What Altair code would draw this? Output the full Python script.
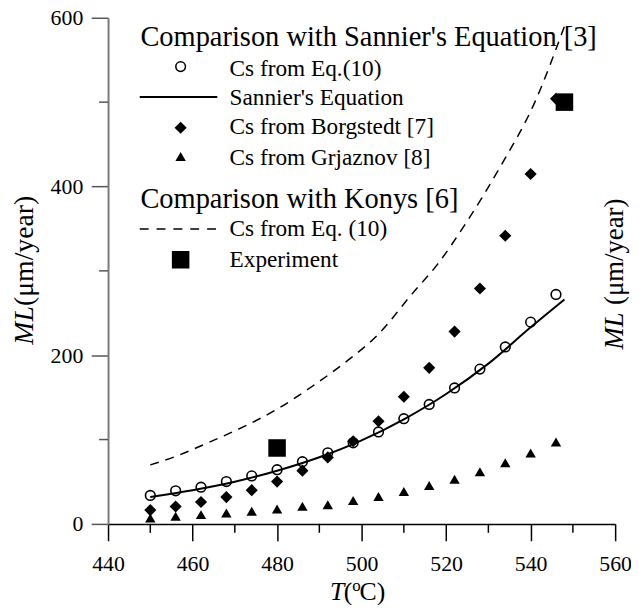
import altair as alt
import pandas as pd

# ---------------- data ----------------
T_pts = [450, 456, 462, 468, 474, 480, 486, 492, 498, 504, 510, 516, 522, 528, 534, 540, 546]
eq10 = [33.7, 39.2, 43.5, 50.2, 56.9, 64.3, 73.7, 84.3, 96.1, 109, 124.7, 141.6, 161.2, 183.5, 209.8, 239.2, 272]
borgstedt = [16.4, 20.7, 25.9, 31.8, 40, 50.2, 63.1, 78.8, 98, 121.7, 150.7, 185, 228, 279, 341.6, 414.8, 504]
grjaznov = [7, 9, 11, 13, 15, 17.6, 20.8, 22.7, 27.8, 32.5, 38.4, 45.5, 52.8, 61.8, 72.4, 84.1, 97]

sannier_T = [450, 460, 470, 480, 490, 500, 510, 520, 530, 540, 548]
sannier_ML = [32, 40, 50, 63, 79, 99, 124, 154, 190, 233, 266]

konys_T = [450, 456, 464, 472, 480, 488, 496, 504, 512, 518, 525, 533, 541, 548]
konys_ML = [70, 80, 97, 115, 136, 162, 191, 225, 273, 308, 359, 425, 500, 590]

exp_T = [480, 548]
exp_ML = [90, 500]

x_major = [440, 460, 480, 500, 520, 540, 560]
x_minor = [450, 470, 490, 510, 530, 550]
y_major = [0, 200, 400, 600]
y_minor = [100, 300, 500]

FONT = "Liberation Serif"
W, H = 512, 511

df_pts = pd.DataFrame({"T": T_pts, "eq10": eq10, "borg": borgstedt, "grj": grjaznov})
df_san = pd.DataFrame({"T": sannier_T, "ML": sannier_ML})
df_kon = pd.DataFrame({"T": konys_T, "ML": konys_ML})
df_exp = pd.DataFrame({"T": exp_T, "ML": exp_ML})
df_xmin = pd.DataFrame({"T": x_minor})
df_ymin = pd.DataFrame({"ML": y_minor})
one = pd.DataFrame({"k": [0]})

xscale = alt.Scale(domain=[440, 560], nice=False, zero=False)
yscale = alt.Scale(domain=[0, 600], nice=False, zero=False)
xaxis = alt.Axis(values=x_major, title=None, grid=False, tickSize=17, tickWidth=1.5,
                 tickColor="black", domainColor="black", domainWidth=1.5,
                 labelFont=FONT, labelFontSize=22, labelColor="black", labelPadding=13,
                 labelFlush=False, labelOverlap=False)
yaxis = alt.Axis(values=y_major, title=None, grid=False, tickSize=17, tickWidth=1.5,
                 tickColor="#555555", domainColor="#7a7a7a", domainWidth=2,
                 labelFont=FONT, labelFontSize=22, labelColor="black", labelPadding=8.5,
                 labelFlush=False, labelOverlap=False)


def X(field="T"):
    return alt.X(f"{field}:Q", scale=xscale, axis=xaxis)


def Y(field):
    return alt.Y(f"{field}:Q", scale=yscale, axis=yaxis)


layers = []

# minor ticks
layers.append(alt.Chart(df_xmin).mark_rule(color="black", strokeWidth=1.5).encode(
    x=X(), y=alt.value(H), y2=alt.value(H + 9)))
layers.append(alt.Chart(df_ymin).mark_rule(color="#555555", strokeWidth=1.5).encode(
    y=Y("ML"), x=alt.value(0), x2=alt.value(-9)))

# curves
layers.append(alt.Chart(df_kon).mark_line(color="black", strokeWidth=1.5, strokeDash=[9, 7],
                                          interpolate="monotone").encode(x=X(), y=Y("ML")))
layers.append(alt.Chart(df_san).mark_line(color="black", strokeWidth=2,
                                          interpolate="monotone").encode(x=X(), y=Y("ML")))

# points
layers.append(alt.Chart(df_pts).mark_point(shape="circle", filled=False, size=95, strokeWidth=1.6,
                                           color="black", opacity=1).encode(x=X(), y=Y("eq10")))
layers.append(alt.Chart(df_pts).mark_point(shape="diamond", filled=True, size=150,
                                           color="black", opacity=1).encode(x=X(), y=Y("borg")))
layers.append(alt.Chart(df_pts).mark_point(shape="triangle-up", filled=True, size=110,
                                           color="black", opacity=1).encode(x=X(), y=Y("grj")))
layers.append(alt.Chart(df_exp).mark_point(shape="square", filled=True, size=313,
                                           color="black", opacity=1).encode(x=X(), y=Y("ML")))


# ---------------- text helpers ----------------
def txt(s, x, y, size, italic=False, angle=0):
    kw = dict(text=s, font=FONT, fontSize=size, align="left", baseline="alphabetic", color="black")
    if italic:
        kw["fontStyle"] = "italic"
    if angle:
        kw["angle"] = angle
    return alt.Chart(one).mark_text(**kw).encode(x=alt.value(x), y=alt.value(y))


def mk(shape, x, y, size, filled):
    return alt.Chart(one).mark_point(shape=shape, filled=filled, size=size, color="black",
                                     strokeWidth=1.6, opacity=1).encode(x=alt.value(x), y=alt.value(y))


# legend block
layers += [
    txt("Comparison with Sannier's Equation [3]", 32.7, 28, 28.7),
    mk("circle", 73.3, 49.3, 95, False),
    txt("Cs from Eq.(10)", 122.7, 58.3, 23.5),
    alt.Chart(one).mark_rule(color="black", strokeWidth=2).encode(
        x=alt.value(32), x2=alt.value(110.3), y=alt.value(80)),
    txt("Sannier's Equation", 122.7, 87.7, 23.5),
    mk("diamond", 73.3, 111, 150, True),
    txt("Cs from Borgstedt [7]", 122.7, 117.7, 23.5),
    mk("triangle-up", 73.3, 140, 110, True),
    txt("Cs from Grjaznov [8]", 122.7, 148.3, 23.5),
    txt("Comparison with Konys [6]", 32.7, 191.7, 28.7),
    alt.Chart(one).mark_rule(color="black", strokeWidth=1.5, strokeDash=[9, 8]).encode(
        x=alt.value(32), x2=alt.value(109), y=alt.value(213.3)),
    txt("Cs from Eq. (10)", 122.7, 220, 23.5),
    mk("square", 73.3, 244.3, 313, True),
    txt("Experiment", 122.7, 251.7, 23.5),
]

# axis titles
layers += [
    txt("ML", -75.7, 330, 28, True, 270),
    txt("(μm/year)", -75.7, 291, 28, False, 270),
    txt("ML", 520.3, 335, 27, True, 270),
    txt("(μm/year)", 520.3, 290, 27, False, 270),
    txt("T", 224, 587.7, 26, True),
    txt("(", 238, 587.7, 26),
    txt("o", 246.5, 579, 17),
    txt("C)", 254, 587.7, 26),
]

chart = alt.layer(*layers).properties(
    width=W, height=H,
    autosize=alt.AutoSizeParams(type="none"),
    padding={"left": 101, "top": 7, "right": 16, "bottom": 79},
).configure_view(stroke=None)

chart.save("out.html", embed_options={"renderer": "svg", "actions": False})
